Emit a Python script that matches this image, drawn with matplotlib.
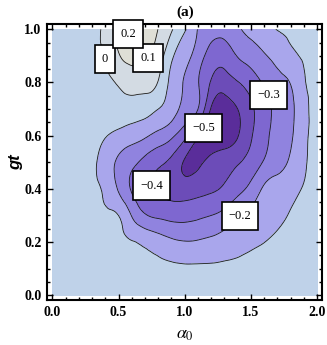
import numpy as np
import matplotlib
matplotlib.use('Agg')
import matplotlib.pyplot as plt
import matplotlib.tri as mtri
from matplotlib.path import Path
from matplotlib.ticker import MultipleLocator, FormatStrFormatter

plt.rcParams['mathtext.fontset'] = 'stix'

alpha0 = [0.0, 0.1, 0.2, 0.3, 0.4, 0.5, 0.6, 0.7, 0.8, 0.9, 1.0,
          1.1, 1.2, 1.3, 1.4, 1.5, 1.6, 1.7, 1.8, 1.9, 2.0]
gt = [0.0, 0.1, 0.2, 0.3, 0.4, 0.5, 0.6, 0.7, 0.8, 0.9, 1.0]

# one row per gt value, columns follow alpha0
row_00 = [-0.05, -0.05, -0.05, -0.05, -0.055, -0.055, -0.06, -0.06, -0.065, -0.065, -0.065,
          -0.065, -0.065, -0.065, -0.06, -0.06, -0.055, -0.055, -0.05, -0.05, -0.05]
row_01 = [-0.05, -0.05, -0.05, -0.055, -0.06, -0.065, -0.07, -0.075, -0.08, -0.085, -0.088,
          -0.088, -0.088, -0.085, -0.08, -0.075, -0.07, -0.065, -0.06, -0.055, -0.05]
row_02 = [-0.05, -0.055, -0.06, -0.065, -0.07, -0.08, -0.095, -0.12, -0.15, -0.18, -0.195,
          -0.19, -0.175, -0.155, -0.135, -0.115, -0.101, -0.085, -0.075, -0.065, -0.06]
row_03 = [-0.05, -0.055, -0.06, -0.07, -0.085, -0.1, -0.205, -0.29, -0.32, -0.335, -0.335,
          -0.32, -0.30, -0.265, -0.21, -0.175, -0.145, -0.12, -0.095, -0.08, -0.07]
row_04 = [-0.05, -0.055, -0.065, -0.08, -0.12, -0.21, -0.31, -0.375, -0.415, -0.435, -0.45,
          -0.435, -0.415, -0.385, -0.33, -0.27, -0.185, -0.155, -0.125, -0.095, -0.075]
row_05 = [-0.05, -0.055, -0.065, -0.085, -0.14, -0.22, -0.275, -0.33, -0.38, -0.425, -0.51,
          -0.52, -0.475, -0.445, -0.41, -0.36, -0.29, -0.24, -0.18, -0.11, -0.08]
row_06 = [-0.05, -0.055, -0.06, -0.07, -0.095, -0.125, -0.155, -0.185, -0.23, -0.28, -0.37,
          -0.49, -0.55, -0.545, -0.505, -0.41, -0.33, -0.265, -0.215, -0.12, -0.085]
row_07 = [-0.05, -0.05, -0.05, -0.05, -0.05, -0.045, -0.045, -0.06, -0.1, -0.15, -0.23,
          -0.30, -0.51, -0.545, -0.50, -0.42, -0.34, -0.275, -0.225, -0.125, -0.09]
row_08 = [-0.05, -0.05, -0.045, -0.035, -0.02, 0.01, 0.04, 0.035, -0.005, -0.13, -0.21,
          -0.295, -0.41, -0.45, -0.405, -0.35, -0.29, -0.24, -0.195, -0.11, -0.085]
row_09 = [-0.05, -0.045, -0.04, -0.025, 0.005, 0.09, 0.135, 0.115, 0.05, -0.08, -0.165,
          -0.25, -0.34, -0.355, -0.295, -0.255, -0.21, -0.165, -0.12, -0.09, -0.075]
row_10 = [-0.05, -0.045, -0.035, -0.02, 0.02, 0.15, 0.225, 0.17, 0.098, 0.01, -0.09,
          -0.205, -0.26, -0.265, -0.215, -0.17, -0.13, -0.097, -0.085, -0.075, -0.065]

line_levels = [-0.5, -0.4, -0.3, -0.2, -0.1, 0.0, 0.1, 0.2]
fill_levels = [-1.0] + line_levels + [1.0]
fill_colors = ['#5a2d9a', '#6c4cb8', '#7e67d0', '#9083df', '#a9a6ec',
               '#bfd2e9', '#d3dbe3', '#dfdfd6', '#e9e7dd']

# where each contour label sits
label_spots = {0.2: (0.585, 0.99), 0.1: (0.72, 0.895), 0.0: (0.375, 0.887),
               -0.3: (1.65, 0.756), -0.5: (1.143, 0.628), -0.4: (0.72, 0.41),
               -0.2: (1.415, 0.297)}

Z = np.array([row_00, row_01, row_02, row_03, row_04, row_05,
              row_06, row_07, row_08, row_09, row_10])
X, Y = np.meshgrid(alpha0, gt)

nx, ny = len(alpha0), len(gt)
triangles = []
for j in range(ny - 1):
    for i in range(nx - 1):
        p = j * nx + i
        triangles.append([p, p + 1, p + nx + 1])
        triangles.append([p, p + nx + 1, p + nx])

# smooth on square cells, then stretch back to alpha0
tri_sq = mtri.Triangulation(X.ravel() / 2, Y.ravel(), triangles)
refiner = mtri.UniformTriRefiner(tri_sq)
tri_fine, z_fine = refiner.refine_field(Z.ravel(), subdiv=3)
tri_plot = mtri.Triangulation(tri_fine.x * 2, tri_fine.y, tri_fine.triangles)

fig = plt.figure(figsize=(3.27, 3.45), dpi=100)
ax = fig.add_axes([0.1437, 0.129, 0.8425, 0.8014])

ax.tricontourf(tri_plot, z_fine, levels=fill_levels, colors=fill_colors)


def fmt(v):
    if abs(v) < 1e-9:
        return '0'
    return ('%.1f' % v).replace('-', '\u2212')


def label_box(x0, y0, width, height, mutation_size):
    # a bit more padding top/bottom than at the sides, like the Mathematica labels
    px, py = 0.55 * mutation_size, 0.65 * mutation_size
    x0, y0 = x0 - px, y0 - py
    x1, y1 = x0 + width + 2 * px, y0 + height + 2 * py
    return Path([(x0, y0), (x1, y0), (x1, y1), (x0, y1), (x0, y0)], closed=True)


for lev in line_levels:
    cs = ax.tricontour(tri_plot, z_fine, levels=[lev], colors='#1a1a1a',
                       linewidths=0.6, linestyles='solid')
    if lev not in label_spots:
        continue
    texts = ax.clabel(cs, manual=[label_spots[lev]], inline=False, fmt=fmt,
                      fontsize=9, colors='black')
    for t in texts:
        t.set_rotation(0)
        t.set_fontfamily('Liberation Serif')
        t.set_bbox(dict(boxstyle=label_box, facecolor='white',
                        edgecolor='black', linewidth=1.2))
        t.set_zorder(6)
        t.set_clip_on(False)

ax.set_xlim(-0.04, 2.04)
ax.set_ylim(-0.02, 1.02)
ax.xaxis.set_major_locator(MultipleLocator(0.5))
ax.xaxis.set_minor_locator(MultipleLocator(0.1))
ax.yaxis.set_major_locator(MultipleLocator(0.2))
ax.yaxis.set_minor_locator(MultipleLocator(0.05))
ax.xaxis.set_major_formatter(FormatStrFormatter('%.1f'))
ax.yaxis.set_major_formatter(FormatStrFormatter('%.1f'))
ax.tick_params(which='both', direction='in', top=True, right=True, width=1)
ax.tick_params(which='major', length=4.5, pad=4)
ax.tick_params(which='minor', length=2.5)
for lab in ax.get_xticklabels() + ax.get_yticklabels():
    lab.set_fontfamily('Liberation Serif')
    lab.set_fontweight('bold')
    lab.set_fontsize(10)
for sp in ax.spines.values():
    sp.set_linewidth(1.5)

ax.set_title('(a)', fontfamily='Liberation Serif', fontweight='bold', fontsize=11, pad=6)
ax.set_xlabel(r'$\alpha_0$', fontsize=13, labelpad=4)
ax.set_ylabel('gt', fontfamily='Liberation Sans', fontweight='bold', style='italic',
              fontsize=12, labelpad=1)

fig.savefig('out.png', dpi=100)
